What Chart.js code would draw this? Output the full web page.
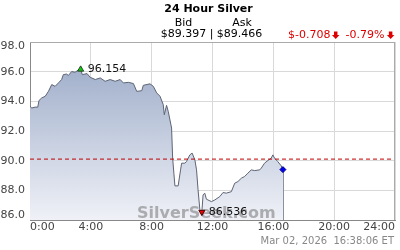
<!DOCTYPE html>
<html>
<head>
<meta charset="utf-8">
<script src="https://cdn.jsdelivr.net/npm/chart.js@4.4.1/dist/chart.umd.min.js"></script>
<style>
html,body{margin:0;padding:0;background:#fff;}
canvas{display:block;}
</style>
</head>
<body>
<canvas id="c" width="400" height="250"></canvas>
<script>
// ---- data ----
const title = '24 Hour Silver';
const bid = 89.397;
const ask = 89.466;
const change = -0.708;
const changePct = -0.79;
const stamp = 'Mar 02, 2026  16:38:06 ET';
const watermark = 'SilverSeek.com';
const hourTicks = [0, 4, 8, 12, 16, 20, 24];
const priceTicks = [86, 88, 90, 92, 94, 96, 98];
const times = [0.0,0.12,0.34,0.51,0.59,0.77,1.0,1.21,1.43,1.65,
  1.87,2.08,2.19,2.41,2.52,2.74,2.96,3.18,3.33,3.44,
  3.75,3.96,4.29,4.62,4.94,5.27,5.60,5.93,6.14,6.47,
  6.80,7.02,7.35,7.45,7.89,8.11,8.33,8.55,8.76,8.83,
  8.98,9.09,9.31,9.38,9.46,9.53,9.74,9.90,9.97,10.18,
  10.29,10.51,10.66,10.84,10.95,11.05,11.17,11.30,11.38,11.49,
  11.60,11.93,12.15,12.48,12.69,12.91,13.24,13.46,13.67,13.90,
  14.11,14.33,14.55,14.77,15.10,15.21,15.42,15.64,15.86,15.97,
  16.08,16.29,16.52,16.63];
const prices = [93.66,93.55,93.61,93.61,94.05,94.23,94.34,94.67,95.13,95.01,
  95.24,95.47,95.80,95.84,95.74,96.01,95.96,96.11,96.154,95.80,
  95.87,95.62,95.47,95.58,95.35,95.47,95.35,95.47,95.24,95.28,
  95.20,94.67,94.72,95.08,95.18,95.01,94.57,94.34,93.78,93.10,
  93.73,93.32,92.20,90.17,89.16,88.30,88.30,89.38,89.83,89.83,
  89.94,90.39,90.51,90.06,89.38,88.03,86.68,86.536,87.69,87.81,
  87.40,87.24,87.35,87.58,87.85,87.81,87.91,88.48,88.59,88.82,
  88.93,89.16,89.38,89.33,89.38,89.50,89.83,90.01,90.17,90.39,
  90.17,89.94,89.65,89.397];

// ---- derived ----
const prevClose = +(bid - change).toFixed(3);
const series = times.map((t, i) => ({x: t, y: prices[i]}));
let iMax = 0, iMin = 0;
prices.forEach((p, i) => { if (p > prices[iMax]) iMax = i; if (p < prices[iMin]) iMin = i; });
const iLast = prices.length - 1;
const FONT = '"DejaVu Sans", Verdana, sans-serif';

function fillGradient(c) {
  const ch = c.chart, a = ch.chartArea;
  if (!a) return 'rgba(150,165,195,0.6)';
  const g = ch.ctx.createLinearGradient(0, a.top, 0, a.bottom);
  g.addColorStop(0, '#95a5c4');
  g.addColorStop(1, '#eff1f7');
  return g;
}

function downArrow(ctx, x, yTop, color) {
  ctx.fillStyle = color;
  ctx.fillRect(x + 2, yTop, 3.5, 3.5);
  ctx.beginPath();
  ctx.moveTo(x, yTop + 3.5);
  ctx.lineTo(x + 7.5, yTop + 3.5);
  ctx.lineTo(x + 3.75, yTop + 7.5);
  ctx.closePath();
  ctx.fill();
}

const decor = {
  id: 'decor',
  afterDatasetDraw(chart, args) {
    if (args.index !== 0) return;
    const ctx = chart.ctx, xs = chart.scales.x, ys = chart.scales.y;
    ctx.save();
    // watermark over the area
    ctx.font = 'bold 16px ' + FONT;
    ctx.fillStyle = 'rgba(105,105,105,0.5)';
    ctx.textAlign = 'left';
    ctx.textBaseline = 'alphabetic';
    ctx.fillText(watermark, 137, 218);
    // closing edge of the area at the last point
    const px = Math.round(xs.getPixelForValue(times[iLast])) + 0.5;
    ctx.strokeStyle = '#8a90a0';
    ctx.lineWidth = 1;
    ctx.beginPath();
    ctx.moveTo(px, ys.getPixelForValue(prices[iLast]));
    ctx.lineTo(px, chart.chartArea.bottom);
    ctx.stroke();
    ctx.restore();
  },
  afterDraw(chart) {
    const ctx = chart.ctx, a = chart.chartArea, xs = chart.scales.x, ys = chart.scales.y;
    ctx.save();
    // top / right border
    ctx.strokeStyle = '#aaaaaa';
    ctx.lineWidth = 1;
    ctx.beginPath();
    ctx.moveTo(a.left, Math.round(a.top) + 0.5);
    ctx.lineTo(a.right, Math.round(a.top) + 0.5);
    ctx.moveTo(Math.round(a.right) - 0.5, a.top);
    ctx.lineTo(Math.round(a.right) - 0.5, a.bottom);
    ctx.stroke();
    // y tick labels (kept inside the plot's height)
    ctx.font = '11px ' + FONT;
    ctx.fillStyle = '#444';
    ctx.textAlign = 'right';
    ctx.textBaseline = 'middle';
    ys.ticks.forEach(t => {
      let py = ys.getPixelForValue(t.value);
      py = Math.min(Math.max(py, a.top + 4.5), a.bottom - 4.5);
      ctx.fillText(t.value.toFixed(1), a.left - 5, py);
    });
    // marker labels
    ctx.fillStyle = '#111';
    ctx.textAlign = 'left';
    ctx.fillText(prices[iMax].toFixed(3), xs.getPixelForValue(times[iMax]) + 7, ys.getPixelForValue(prices[iMax]));
    ctx.fillText(prices[iMin].toFixed(3), xs.getPixelForValue(times[iMin]) + 7, ys.getPixelForValue(prices[iMin]) + 0.5);
    // header
    ctx.textBaseline = 'alphabetic';
    ctx.textAlign = 'center';
    ctx.fillStyle = '#000';
    ctx.font = 'bold 11px ' + FONT;
    ctx.fillText(title, 208.5, 12);
    ctx.font = '11px ' + FONT;
    ctx.fillText('Bid', 183.5, 26);
    ctx.fillText('Ask', 242, 26);
    ctx.fillText('$' + bid.toFixed(3) + ' | $' + ask.toFixed(3), 211.5, 37);
    // change
    const red = '#dd0000';
    ctx.textAlign = 'left';
    ctx.fillStyle = red;
    const t1 = '$' + change.toFixed(3);
    ctx.fillText(t1, 288, 38);
    let x = 288 + ctx.measureText(t1).width + 1.5;
    downArrow(ctx, x, 31.5, red);
    x += 13.5;
    const t2 = changePct.toFixed(2) + '%';
    ctx.fillStyle = red;
    ctx.fillText(t2, x, 38);
    x += ctx.measureText(t2).width + 2.5;
    downArrow(ctx, x, 31.5, red);
    // timestamp
    ctx.font = '10px ' + FONT;
    ctx.fillStyle = '#888';
    ctx.textAlign = 'right';
    ctx.fillText(stamp, 394, 244);
    ctx.restore();
  }
};

new Chart(document.getElementById('c'), {
  type: 'line',
  data: {
    datasets: [
      {
        data: series,
        borderColor: '#5d6474',
        borderWidth: 1,
        pointRadius: 0,
        tension: 0,
        fill: 'start',
        backgroundColor: fillGradient,
        order: 3
      },
      {
        data: [{x: hourTicks[0], y: prevClose}, {x: hourTicks[hourTicks.length - 1], y: prevClose}],
        borderColor: '#c00000',
        borderWidth: 1,
        borderDash: [4, 3],
        pointRadius: 0,
        fill: false,
        order: 2
      },
      {
        type: 'scatter',
        data: [{x: times[iMax], y: prices[iMax]}],
        pointStyle: 'triangle',
        pointRadius: 3.5,
        backgroundColor: '#11cc11',
        borderColor: '#224422',
        borderWidth: 1,
        order: 0
      },
      {
        type: 'scatter',
        data: [{x: times[iMin], y: prices[iMin]}],
        pointStyle: 'triangle',
        rotation: 180,
        pointRadius: 3.5,
        backgroundColor: '#ee0000',
        borderColor: '#440000',
        borderWidth: 1,
        order: 0
      },
      {
        type: 'scatter',
        data: [{x: times[iLast], y: prices[iLast]}],
        pointStyle: 'rectRot',
        pointRadius: 3,
        backgroundColor: '#0000ee',
        borderColor: '#000088',
        borderWidth: 1,
        order: 0
      }
    ]
  },
  options: {
    responsive: false,
    animation: false,
    devicePixelRatio: 1,
    layout: {padding: {top: 42, right: 4, left: 0, bottom: 0}},
    plugins: {legend: {display: false}, tooltip: {enabled: false}, title: {display: false}},
    scales: {
      x: {
        type: 'linear',
        min: hourTicks[0],
        max: hourTicks[hourTicks.length - 1],
        afterBuildTicks: s => { s.ticks = hourTicks.map(v => ({value: v})); },
        afterFit: s => { s.height = 30; },
        ticks: {
          align: 'inner',
          padding: 1,
          color: '#444',
          font: {family: FONT, size: 11},
          callback: v => v + ':00'
        },
        grid: {color: '#d9d9d9', drawTicks: false},
        border: {color: '#888'}
      },
      y: {
        min: priceTicks[0],
        max: priceTicks[priceTicks.length - 1],
        afterBuildTicks: s => { s.ticks = priceTicks.map(v => ({value: v})); },
        afterFit: s => { s.width = 30; },
        ticks: {display: false},
        grid: {color: '#d9d9d9', drawTicks: false},
        border: {color: '#888'}
      }
    }
  },
  plugins: [decor]
});
</script>
</body>
</html>
